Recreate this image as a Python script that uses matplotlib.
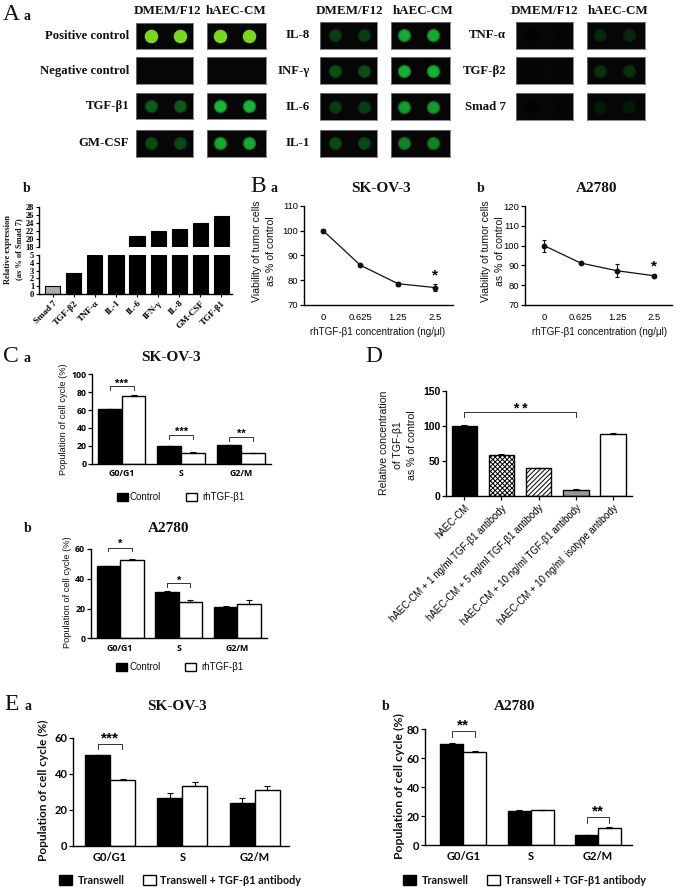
import matplotlib
matplotlib.use('Agg')
import matplotlib.pyplot as plt
from matplotlib.patches import Rectangle

plt.rcParams['hatch.linewidth'] = 0.7

W, H = 677, 890
SERIF = 'Liberation Serif'
SANS = 'Liberation Sans'

# blot intensities, (DMEM/F12, hAEC-CM)
blot_g1 = ['Positive control', 'Negative control', 'TGF-β1', 'GM-CSF']
blot_g1_vals = [(1.0, 1.0), (0.0, 0.0), (0.4, 0.8), (0.33, 0.75)]
blot_g2 = ['IL-8', 'INF-γ', 'IL-6', 'IL-1']
blot_g2_vals = [(0.28, 0.75), (0.35, 0.78), (0.27, 0.68), (0.33, 0.58)]
blot_g3 = ['TNF-α', 'TGF-β2', 'Smad 7']
blot_g3_vals = [(0.02, 0.18), (0.03, 0.22), (0.02, 0.12)]

# A b
expr_labels = ['Smad 7', 'TGF-β2', 'TNF-α', 'IL-1', 'IL-6', 'IFN-γ', 'IL-8', 'GM-CSF', 'TGF-β1']
expr_vals = [1.0, 2.7, 5.0, 5.0, 20.7, 22.0, 22.4, 23.9, 25.6]

# B
conc_labels = ['0', '0.625', '1.25', '2.5']
via_sk = [100, 86, 78.6, 77]
via_sk_err = [0.5, 0.3, 0.8, 1.3]
via_a2 = [100, 91.2, 87.3, 84.8]
via_a2_err = [3, 0.5, 3.2, 0.5]

# C and E
phases = ['G0/G1', 'S', 'G2/M']
c_sk_ctrl = [61, 20, 20.5]
c_sk_ctrl_err = [0.3, 0.2, 0.4]
c_sk_tgf = [76, 12.5, 11.5]
c_sk_tgf_err = [0.8, 0.2, 0.5]
c_a2_ctrl = [48.3, 31, 21]
c_a2_ctrl_err = [0.5, 0.6, 0.8]
c_a2_tgf = [52.7, 24.2, 23.3]
c_a2_tgf_err = [0.8, 1.3, 2.2]
e_sk_tw = [50.3, 26.5, 23.7]
e_sk_tw_err = [0.2, 2.8, 3]
e_sk_ab = [36.3, 33, 31.2]
e_sk_ab_err = [0.7, 2.2, 2]
e_a2_tw = [70, 23.8, 7]
e_a2_tw_err = [0.4, 0.4, 0.2]
e_a2_ab = [64.5, 24.3, 12]
e_a2_ab_err = [0.5, 0.2, 0.5]

# D
d_labels = ['hAEC-CM', 'hAEC-CM + 1 ng/ml TGF-β1 antibody', 'hAEC-CM + 5 ng/ml TGF-β1 antibody',
            'hAEC-CM + 10 ng/ml TGF-β1 antibody', 'hAEC-CM + 10 ng/ml  isotype antibody']
d_vals = [100, 59, 40, 8.5, 88.5]
d_err = [1, 1, 0.7, 1, 2]

fig = plt.figure(figsize=(W / 100, H / 100), dpi=100, facecolor='white')


def make_ax(left, right, top, bottom):
    ax = fig.add_axes([left / W, 1 - bottom / H, (right - left) / W, (bottom - top) / H])
    ax.patch.set_alpha(0)
    ax.spines['top'].set_visible(False)
    ax.spines['right'].set_visible(False)
    ax.spines['left'].set_linewidth(1.0)
    ax.spines['bottom'].set_linewidth(1.0)
    return ax


def txt(x, y, s, size=8, family=SANS, weight='normal', ha='center', rotation=0, color='#111111', linespacing=1.15):
    fig.text(x / W, 1 - y / H, s, fontsize=size, family=family, weight=weight, ha=ha, va='center',
             rotation=rotation, color=color, linespacing=linespacing, rotation_mode='default')


def swatch(x0, x1, y0, y1, color):
    fig.add_artist(Rectangle((x0 / W, 1 - y1 / H), (x1 - x0) / W, (y1 - y0) / H, transform=fig.transFigure,
                             facecolor=color, edgecolor='black', linewidth=1.0))


def bracket(ax, x0, x1, top, low, stars, star_y, size=8):
    ax.plot([x0, x0, x1, x1], [low, top, top, low], color='#333333', lw=0.7, clip_on=False)
    ax.text((x0 + x1) / 2, star_y, stars, ha='center', va='center', fontsize=size, family=SANS, weight='bold',
            clip_on=False)


# ---- A a blots
def spot(ax, cx, level):
    if level <= 0:
        return
    if level > 0.9:
        color = '#7ad81c'
        ax.scatter([cx], [0.5], s=95, color=color, alpha=1, linewidths=0)
        return
    color = (0.1 * level, 0.9 * level, 0.25 * level)
    ax.scatter([cx], [0.5], s=95, color=color, alpha=0.55, linewidths=0)
    ax.scatter([cx], [0.5], s=70, color=color, alpha=0.8, linewidths=0)
    ax.scatter([cx], [0.5], s=45, color=color, alpha=1, linewidths=0)


def blot_group(names, vals, label_right, col1, col2, rows):
    for name, pair, (top, bot) in zip(names, vals, rows):
        txt(label_right, (top + bot) / 2, name, size=9.2, family=SERIF, weight='bold', ha='right')
        for (x0, x1), level, spots in zip((col1, col2), pair, ((0.265, 0.77), (0.22, 0.72))):
            ax = fig.add_axes([x0 / W, 1 - bot / H, (x1 - x0) / W, (bot - top) / H])
            ax.set_facecolor('#060606')
            ax.set_xlim(0, 1)
            ax.set_ylim(0, 1)
            ax.set_xticks([])
            ax.set_yticks([])
            for s in ax.spines.values():
                s.set_color('#777777')
                s.set_linewidth(0.6)
            for cx in spots:
                spot(ax, cx, level)


rows_a = [(22.7, 49.3), (57.3, 84), (93.3, 119.3), (130, 156.7)]
rows_b = [(22, 48.5), (57.3, 84), (93.3, 120), (130, 156.7)]
blot_group(blot_g1, blot_g1_vals, 129, (135.5, 193), (207, 265.5), rows_a)
blot_group(blot_g2, blot_g2_vals, 310, (320, 377), (391, 450), rows_b)
blot_group(blot_g3, blot_g3_vals, 506, (516, 573), (587, 645), rows_b[:3])

for cx, s in [(167, 'DMEM/F12'), (236, 'hAEC-CM'), (349, 'DMEM/F12'), (423, 'hAEC-CM'),
              (544, 'DMEM/F12'), (618, 'hAEC-CM')]:
    txt(cx, 11, s, size=9.4, family=SERIF, weight='bold')

# panel letters
for x, y, s in [(11, 14, 'A'), (258, 187, 'B'), (11, 356, 'C'), (374, 356, 'D'), (12, 705, 'E')]:
    txt(x, y, s, size=17, family=SERIF)
for x, y, s in [(27, 17, 'a'), (27, 188, 'b'), (274, 189, 'a'), (481, 188, 'b'), (27, 358, 'a'), (28, 528, 'b'),
                (28, 707, 'a'), (386, 707, 'b')]:
    txt(x, y, s, size=10, family=SERIF, weight='bold')

# ---- A b broken axis
xpos = list(range(len(expr_vals)))
bar_cols = ['#aaaaaa'] + ['black'] * 8
xl = (-0.65, 8.5)
ax_low = make_ax(39, 232, 254.7, 294.3)
ax_low.bar(xpos, expr_vals, width=0.72, color=bar_cols, edgecolor='black', linewidth=0.8)
ax_low.set_xlim(*xl)
ax_low.set_ylim(0, 5)
ax_low.set_yticks(range(6))
ax_low.set_xticks(xpos)
ax_low.set_xticklabels(expr_labels, rotation=45, ha='right', rotation_mode='anchor')
ax_up = make_ax(39, 232, 206.7, 247.3)
ax_up.bar(xpos, expr_vals, width=0.72, color=bar_cols, edgecolor='black', linewidth=0.8)
ax_up.set_xlim(*xl)
ax_up.set_ylim(18, 28)
ax_up.set_yticks(range(18, 29, 2))
ax_up.set_xticks([])
ax_up.spines['bottom'].set_visible(False)
for ax in (ax_low, ax_up):
    ax.tick_params(axis='y', length=2.5, width=0.8, pad=1, labelsize=6)
    ax.tick_params(axis='x', length=2.5, width=0.8, pad=1, labelsize=6.5)
    for t in ax.get_xticklabels() + ax.get_yticklabels():
        t.set_family(SERIF)
        t.set_weight('bold')
txt(8, 249, 'Relative expression', size=6, family=SERIF, weight='bold', rotation=90)
txt(19, 249, '(as % of Smad 7)', size=6, family=SERIF, weight='bold', rotation=90)


# ---- B viability
def viability(left, right, top, bottom, xlim, ylim, yticks, vals, errs, star_y):
    ax = make_ax(left, right, top, bottom)
    ax.errorbar(range(4), vals, yerr=errs, color='#111111', marker='o', markersize=3.2, lw=0.9, elinewidth=0.8,
                capsize=1.6, capthick=0.8)
    ax.set_xlim(*xlim)
    ax.set_ylim(*ylim)
    ax.set_yticks(yticks)
    ax.set_xticks(range(4))
    ax.set_xticklabels(conc_labels)
    ax.tick_params(axis='x', length=0, pad=6, labelsize=6.8)
    ax.tick_params(axis='y', length=3, width=0.9, pad=1, labelsize=6.8)
    for t in ax.get_xticklabels() + ax.get_yticklabels():
        t.set_family(SANS)
    ax.text(3, star_y, '*', ha='center', va='center', fontsize=11, family=SANS, weight='bold')
    return ax


viability(304, 453, 205.7, 305, (-0.507, 3.47), (70, 110), range(70, 111, 10), via_sk, via_sk_err, 82)
viability(525, 671.7, 206, 305, (-0.52, 3.49), (70, 120), range(70, 121, 10), via_a2, via_a2_err, 89.5)
for x0, x1, cx in [(257, 271, 378), (486, 500, 600)]:
    txt(x0, 251, 'Viability of tumor cells', size=7.6, rotation=90)
    txt(x1, 251, 'as % of control', size=7.6, rotation=90)
    txt(cx, 332, 'rhTGF-β1 concentration (ng/μl)', size=7.1)
txt(381, 188, 'SK-OV-3', size=11, family=SERIF, weight='bold')
txt(597, 188, 'A2780', size=11, family=SERIF, weight='bold')


# ---- C and E grouped bars
def grouped(left, right, top, bottom, xlim, ylim, yticks, v1, e1, v2, e2, font, tick_size, bar_w=0.4):
    ax = make_ax(left, right, top, bottom)
    x = [0, 1, 2]
    x1 = [i - bar_w / 2 for i in x]
    x2 = [i + bar_w / 2 for i in x]
    ekw = dict(capsize=2, capthick=0.8, elinewidth=0.8, ecolor='black')
    ax.bar(x1, v1, width=bar_w, color='black', edgecolor='black', linewidth=1)
    ax.errorbar(x1, v1, yerr=[[0] * 3, e1], fmt='none', **ekw)
    ax.bar(x2, v2, width=bar_w, color='white', edgecolor='black', linewidth=1)
    ax.errorbar(x2, v2, yerr=[[0] * 3, e2], fmt='none', **ekw)
    ax.set_xlim(*xlim)
    ax.set_ylim(*ylim)
    ax.set_yticks(yticks)
    ax.set_xticks(x)
    ax.set_xticklabels(phases)
    ax.tick_params(axis='x', length=0, pad=4, labelsize=tick_size)
    ax.tick_params(axis='y', length=3, width=0.9, pad=1, labelsize=tick_size)
    for t in ax.get_xticklabels() + ax.get_yticklabels():
        t.set_family(font)
        t.set_weight('bold')
    return ax


ca = grouped(92.3, 271, 374.3, 463.7, (-0.49, 2.5), (0, 100), range(0, 101, 20), c_sk_ctrl, c_sk_ctrl_err,
             c_sk_tgf, c_sk_tgf_err, 'Open Sans', 6.3)
bracket(ca, -0.2, 0.2, 87, 82.5, '***', 89, 8)
bracket(ca, 0.8, 1.2, 32.5, 28, '***', 36, 8)
bracket(ca, 1.8, 2.2, 29.5, 25.5, '**', 33, 8)

cb = grouped(90.7, 266.7, 549, 638.3, (-0.5, 2.5), (0, 60), range(0, 61, 20), c_a2_ctrl, c_a2_ctrl_err,
             c_a2_tgf, c_a2_tgf_err, 'Open Sans', 6.3)
bracket(cb, -0.2, 0.2, 60.9, 58.9, '*', 63.5, 8)
bracket(cb, 0.8, 1.2, 37.4, 34.7, '*', 38.7, 8)

ea = grouped(73.3, 289.3, 737.7, 846, (-0.51, 2.48), (0, 60), range(0, 61, 20), e_sk_tw, e_sk_tw_err,
             e_sk_ab, e_sk_ab_err, 'Lato', 8, bar_w=0.345)
bracket(ea, -0.17, 0.17, 56.5, 53.5, '***', 59.5, 11)

eb = grouped(425, 631.7, 729.3, 845.3, (-0.57, 2.5), (0, 80), range(0, 81, 20), e_a2_tw, e_a2_tw_err,
             e_a2_ab, e_a2_ab_err, 'Lato', 8, bar_w=0.34)
bracket(eb, -0.17, 0.17, 79, 75, '**', 82.5, 11)
bracket(eb, 1.83, 2.17, 19.8, 15.6, '**', 23.5, 11)

txt(63, 419, 'Population of cell cycle (%)', size=6.7, rotation=90)
txt(68, 592, 'Population of cell cycle (%)', size=6.7, rotation=90)
txt(43, 790, 'Population of cell cycle (%)', size=8.6, family='Lato', weight='bold', rotation=90)
txt(399, 786, 'Population of cell cycle (%)', size=8.8, family='Lato', weight='bold', rotation=90)

txt(171, 357, 'SK-OV-3', size=11, family=SERIF, weight='bold')
txt(169, 528, 'A2780', size=11, family=SERIF, weight='bold')
txt(177, 707, 'SK-OV-3', size=11, family=SERIF, weight='bold')
txt(515, 706, 'A2780', size=11, family=SERIF, weight='bold')

# legends
for x_a, x_b, x_c, x_d, y in [(117, 130, 186, 202, 497), (116, 129, 185, 201, 667)]:
    swatch(x_a, x_a + 11, y - 4, y + 4, 'black')
    txt(x_b, y, 'Control', size=7, ha='left')
    swatch(x_c, x_c + 11, y - 4, y + 4, 'white')
    txt(x_d, y, 'rhTGF-β1', size=7, ha='left')
for x_a, x_b, x_c, x_d in [(59, 78, 143, 160), (403, 422, 487, 505)]:
    swatch(x_a, x_a + 13, 875, 884.5, 'black')
    txt(x_b, 880, 'Transwell', size=7.8, family='Lato', weight='bold', ha='left')
    swatch(x_c, x_c + 13, 875, 884.5, 'white')
    txt(x_d, 880, 'Transwell + TGF-β1 antibody', size=7.8, family='Lato', weight='bold', ha='left')

# ---- D
ax_d = make_ax(446, 631.7, 391, 496)
d_x = list(range(5))
d_cols = ['black', 'white', 'white', '#999999', 'white']
d_hatch = ['', 'xxxxxxx', '///////', '', '']
for i in d_x:
    ax_d.bar(i, d_vals[i], width=0.68, color=d_cols[i], edgecolor='black', linewidth=1, hatch=d_hatch[i])
ax_d.errorbar(d_x, d_vals, yerr=[[0] * 5, d_err], fmt='none', ecolor='black', capsize=2.5, capthick=0.8,
              elinewidth=0.8)
ax_d.set_xlim(-0.49, 4.5)
ax_d.set_ylim(0, 150)
ax_d.set_yticks([0, 50, 100, 150])
ax_d.set_xticks(d_x)
ax_d.set_xticklabels(d_labels, rotation=45, ha='right', rotation_mode='anchor')
ax_d.tick_params(axis='x', length=3, width=0.9, pad=2, labelsize=6.9)
ax_d.tick_params(axis='y', length=3, width=0.9, pad=1, labelsize=7.5)
for t in ax_d.get_yticklabels():
    t.set_family(SANS)
    t.set_weight('bold')
for t in ax_d.get_xticklabels():
    t.set_family(SANS)
bracket(ax_d, 0, 3, 120, 113, '* *', 124, 10)
txt(384, 443, 'Relative concentration', size=7.6, rotation=90)
txt(398, 445, 'of TGF-β1', size=7.6, rotation=90)
txt(412, 445, 'as % of control', size=7.6, rotation=90)

fig.savefig('out.png', dpi=100)
